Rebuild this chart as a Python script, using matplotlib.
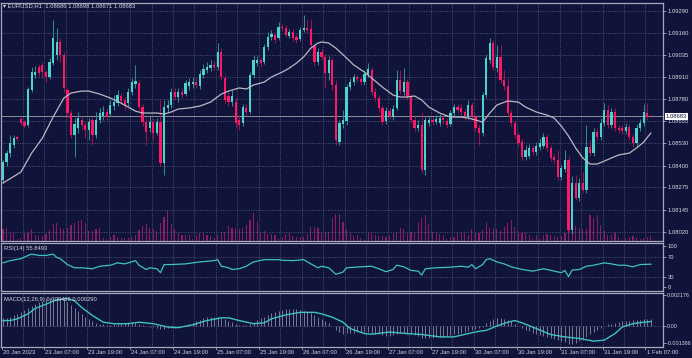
import numpy as np
import matplotlib
matplotlib.use('Agg')
import matplotlib.pyplot as plt

# EURUSD H1, 20 Jan 2023 20:00 -> 1 Feb 2023 09:00 (182 hourly bars)
opens = [
    1.08317, 1.08421, 1.08472, 1.08518, 1.08564, 1.08668, 1.08650, 1.08633, 1.08834, 1.08920,
    1.08966, 1.08978, 1.08937, 1.08909, 1.08989, 1.09035, 1.09110, 1.09035, 1.08834, 1.08702,
    1.08576, 1.08616, 1.08662, 1.08633, 1.08604, 1.08662, 1.08576, 1.08662, 1.08685, 1.08708,
    1.08696, 1.08742, 1.08759, 1.08800, 1.08777, 1.08759, 1.08823, 1.08868, 1.08874, 1.08736,
    1.08650, 1.08616, 1.08650, 1.08587, 1.08650, 1.08415, 1.08731, 1.08748, 1.08823, 1.08794,
    1.08823, 1.08811, 1.08857, 1.08868, 1.08880, 1.08857, 1.08920, 1.08949, 1.08960, 1.08978,
    1.08966, 1.09052, 1.08903, 1.08800, 1.08765, 1.08765, 1.08662, 1.08645, 1.08731, 1.08708,
    1.08920, 1.08989, 1.09006, 1.08995, 1.09081, 1.09138, 1.09150, 1.09133, 1.09196, 1.09190,
    1.09144, 1.09167, 1.09138, 1.09127, 1.09179, 1.09190, 1.09184, 1.09087, 1.08995, 1.09052,
    1.09024, 1.08932, 1.09006, 1.08863, 1.08535, 1.08639, 1.08656, 1.08851, 1.08880, 1.08909,
    1.08897, 1.08880, 1.08926, 1.08949, 1.08823, 1.08788, 1.08731, 1.08656, 1.08713, 1.08679,
    1.08731, 1.08891, 1.08823, 1.08880, 1.08794, 1.08662, 1.08616, 1.08633, 1.08375, 1.08645,
    1.08662, 1.08650, 1.08645, 1.08673, 1.08656, 1.08639, 1.08702, 1.08736, 1.08731, 1.08708,
    1.08679, 1.08748, 1.08679, 1.08616, 1.08587, 1.08805, 1.09006, 1.09104, 1.08960, 1.09024,
    1.08891, 1.08857, 1.08702, 1.08645, 1.08576, 1.08535, 1.08449, 1.08455, 1.08501, 1.08478,
    1.08507, 1.08513, 1.08564, 1.08501, 1.08449, 1.08432, 1.08334, 1.08380, 1.08432, 1.08030,
    1.08300, 1.08214, 1.08300, 1.08260, 1.08507, 1.08472, 1.08593, 1.08564, 1.08645, 1.08719,
    1.08633, 1.08708, 1.08616, 1.08616, 1.08599, 1.08622, 1.08564, 1.08530, 1.08616, 1.08645,
    1.08702, 1.08686]
closes = [
    1.08421, 1.08472, 1.08530, 1.08558, 1.08553, 1.08645, 1.08627, 1.08840, 1.08937, 1.08937,
    1.08932, 1.08937, 1.08909, 1.08995, 1.09133, 1.09110, 1.09035, 1.08846, 1.08702, 1.08576,
    1.08639, 1.08673, 1.08633, 1.08604, 1.08650, 1.08576, 1.08662, 1.08702, 1.08708, 1.08679,
    1.08748, 1.08765, 1.08805, 1.08771, 1.08742, 1.08823, 1.08880, 1.08886, 1.08736, 1.08650,
    1.08593, 1.08650, 1.08587, 1.08650, 1.08415, 1.08736, 1.08748, 1.08823, 1.08794, 1.08823,
    1.08805, 1.08874, 1.08880, 1.08880, 1.08863, 1.08926, 1.08955, 1.08966, 1.08978, 1.08966,
    1.09052, 1.08909, 1.08777, 1.08765, 1.08800, 1.08645, 1.08633, 1.08736, 1.08708, 1.08920,
    1.09006, 1.09006, 1.08989, 1.09081, 1.09138, 1.09156, 1.09121, 1.09196, 1.09190, 1.09150,
    1.09167, 1.09133, 1.09121, 1.09179, 1.09190, 1.09179, 1.09093, 1.08995, 1.09052, 1.09024,
    1.08932, 1.09006, 1.08863, 1.08547, 1.08645, 1.08662, 1.08851, 1.08880, 1.08909, 1.08897,
    1.08880, 1.08926, 1.08955, 1.08823, 1.08788, 1.08731, 1.08650, 1.08713, 1.08685, 1.08725,
    1.08891, 1.08828, 1.08880, 1.08794, 1.08662, 1.08616, 1.08633, 1.08375, 1.08662, 1.08662,
    1.08650, 1.08668, 1.08673, 1.08662, 1.08633, 1.08702, 1.08736, 1.08719, 1.08708, 1.08685,
    1.08748, 1.08679, 1.08616, 1.08587, 1.08805, 1.09018, 1.09104, 1.08966, 1.09024, 1.08891,
    1.08857, 1.08702, 1.08645, 1.08576, 1.08530, 1.08449, 1.08490, 1.08501, 1.08478, 1.08513,
    1.08530, 1.08564, 1.08501, 1.08444, 1.08432, 1.08334, 1.08386, 1.08432, 1.08030, 1.08300,
    1.08214, 1.08300, 1.08260, 1.08507, 1.08472, 1.08593, 1.08564, 1.08645, 1.08719, 1.08633,
    1.08708, 1.08616, 1.08604, 1.08599, 1.08622, 1.08564, 1.08530, 1.08616, 1.08645, 1.08708,
    1.08679, 1.08683]
highs = [
    1.08432, 1.08490, 1.08576, 1.08576, 1.08576, 1.08679, 1.08662, 1.08851, 1.08966, 1.08972,
    1.08983, 1.08995, 1.08949, 1.09018, 1.09236, 1.09190, 1.09133, 1.09052, 1.08846, 1.08719,
    1.08673, 1.08708, 1.08685, 1.08650, 1.08673, 1.08679, 1.08708, 1.08731, 1.08742, 1.08731,
    1.08777, 1.08805, 1.08834, 1.08817, 1.08794, 1.08846, 1.08903, 1.08978, 1.08891, 1.08754,
    1.08673, 1.08690, 1.08673, 1.08673, 1.08777, 1.08777, 1.08777, 1.08846, 1.08846, 1.08846,
    1.08846, 1.08891, 1.08903, 1.08909, 1.08903, 1.08949, 1.08983, 1.08995, 1.09006, 1.09001,
    1.09104, 1.09075, 1.08920, 1.08823, 1.08834, 1.08788, 1.08690, 1.08754, 1.08754, 1.08937,
    1.09035, 1.09029, 1.09024, 1.09098, 1.09167, 1.09179, 1.09167, 1.09225, 1.09213, 1.09207,
    1.09184, 1.09184, 1.09156, 1.09196, 1.09265, 1.09242, 1.09242, 1.09098, 1.09075, 1.09070,
    1.09041, 1.09029, 1.09024, 1.08891, 1.08662, 1.08719, 1.08868, 1.08903, 1.08926, 1.08920,
    1.08914, 1.08949, 1.08989, 1.08966, 1.08846, 1.08805, 1.08748, 1.08736, 1.08731, 1.08748,
    1.08949, 1.08949, 1.08960, 1.08897, 1.08811, 1.08685, 1.08662, 1.08708, 1.08679, 1.08685,
    1.08679, 1.08690, 1.08696, 1.08690, 1.08673, 1.08719, 1.08754, 1.08754, 1.08754, 1.08725,
    1.08777, 1.08765, 1.08696, 1.08633, 1.08823, 1.09035, 1.09133, 1.09121, 1.09093, 1.09093,
    1.08949, 1.08903, 1.08719, 1.08662, 1.08593, 1.08553, 1.08518, 1.08524, 1.08518, 1.08535,
    1.08558, 1.08587, 1.08581, 1.08518, 1.08467, 1.08490, 1.08403, 1.08490, 1.08455, 1.08340,
    1.08346, 1.08329, 1.08363, 1.08633, 1.08547, 1.08616, 1.08616, 1.08673, 1.08759, 1.08748,
    1.08731, 1.08731, 1.08633, 1.08633, 1.08645, 1.08639, 1.08581, 1.08639, 1.08668, 1.08754,
    1.08759, 1.08698]
lows = [
    1.08300, 1.08398, 1.08449, 1.08501, 1.08541, 1.08633, 1.08616, 1.08622, 1.08823, 1.08903,
    1.08914, 1.08903, 1.08880, 1.08897, 1.08978, 1.09006, 1.08995, 1.08823, 1.08673, 1.08558,
    1.08449, 1.08587, 1.08604, 1.08558, 1.08547, 1.08518, 1.08558, 1.08645, 1.08662, 1.08662,
    1.08685, 1.08719, 1.08742, 1.08754, 1.08719, 1.08742, 1.08805, 1.08846, 1.08719, 1.08627,
    1.08518, 1.08593, 1.08547, 1.08576, 1.08398, 1.08346, 1.08708, 1.08731, 1.08777, 1.08765,
    1.08788, 1.08800, 1.08834, 1.08846, 1.08846, 1.08840, 1.08903, 1.08932, 1.08943, 1.08949,
    1.08949, 1.08891, 1.08759, 1.08742, 1.08742, 1.08622, 1.08604, 1.08627, 1.08690, 1.08696,
    1.08903, 1.08972, 1.08966, 1.08983, 1.09064, 1.09121, 1.09104, 1.09121, 1.09173, 1.09138,
    1.09133, 1.09116, 1.09104, 1.09116, 1.09167, 1.09161, 1.09075, 1.08972, 1.08978, 1.09006,
    1.08846, 1.08891, 1.08834, 1.08518, 1.08518, 1.08616, 1.08633, 1.08834, 1.08863, 1.08880,
    1.08863, 1.08863, 1.08909, 1.08805, 1.08771, 1.08708, 1.08633, 1.08639, 1.08668, 1.08662,
    1.08719, 1.08811, 1.08805, 1.08777, 1.08645, 1.08599, 1.08599, 1.08357, 1.08346, 1.08627,
    1.08633, 1.08639, 1.08627, 1.08639, 1.08616, 1.08627, 1.08685, 1.08702, 1.08690, 1.08662,
    1.08668, 1.08662, 1.08599, 1.08518, 1.08570, 1.08788, 1.08989, 1.08949, 1.08937, 1.08874,
    1.08834, 1.08685, 1.08627, 1.08558, 1.08513, 1.08432, 1.08432, 1.08444, 1.08461, 1.08461,
    1.08490, 1.08501, 1.08484, 1.08426, 1.08415, 1.08317, 1.08317, 1.08363, 1.08013, 1.08007,
    1.08202, 1.08196, 1.08242, 1.08242, 1.08455, 1.08455, 1.08547, 1.08547, 1.08627, 1.08616,
    1.08616, 1.08599, 1.08587, 1.08581, 1.08581, 1.08547, 1.08507, 1.08513, 1.08599, 1.08627,
    1.08662, 1.08671]
# tick volume (hundreds)
volumes = [
    12, 13, 8, 8, 2, 3, 8, 8, 12, 6, 5, 5, 7, 11, 17, 18, 13, 12, 13, 16,
    18, 20, 21, 18, 10, 10, 12, 13, 3, 2, 4, 6, 4, 3, 3, 3, 4, 6, 11, 15,
    17, 13, 12, 10, 18, 24, 30, 17, 12, 8, 6, 6, 6, 2, 6, 8, 8, 6, 5, 3,
    6, 8, 9, 15, 13, 13, 12, 13, 16, 21, 28, 19, 8, 10, 7, 7, 6, 2, 4, 7,
    8, 5, 4, 4, 4, 7, 14, 14, 13, 9, 9, 9,
    23, 27, 27, 19, 12, 8, 5, 6, 3, 1, 8, 8, 6, 5, 5, 4, 5, 8, 9, 13,
    12, 8, 9, 8, 18, 23, 26, 17, 9, 8, 7, 6, 2, 4, 4, 8, 9, 8, 6, 12,
    8, 8, 11, 19, 13, 13, 12, 10, 14, 18, 21, 14, 8, 8, 8, 6, 3, 6, 2, 6,
    7, 6, 5, 4, 5, 8, 12, 13, 15, 13, 12, 12, 26, 23, 26, 16, 10, 6, 6, 8,
    4, 1, 3, 4, 5, 3, 2, 3, 4, 5]

# moving average (grey line), read at bar positions
ma_idx = [0, 5, 8, 11, 14, 17, 19, 22, 24, 27, 30, 33, 35, 37, 39, 43, 45, 47, 49, 52,
          55, 58, 61, 63, 66, 68, 70, 73, 75, 78, 80, 82, 84, 86, 88, 89, 91, 93, 96, 98,
          101, 103, 106, 109, 111, 113, 115, 117, 119, 122, 125, 128, 130, 132, 134, 136, 138, 141, 144, 146,
          149, 152, 154, 156, 158, 160, 162, 164, 166, 168, 170, 172, 175, 177, 179, 181]
ma_val = [1.08300, 1.08363, 1.08472, 1.08558, 1.08679, 1.08788, 1.08817, 1.08828, 1.08828, 1.08811,
          1.08788, 1.08759, 1.08736, 1.08713, 1.08702, 1.08702, 1.08696, 1.08708, 1.08725, 1.08731,
          1.08742, 1.08765, 1.08811, 1.08828, 1.08846, 1.08840, 1.08863, 1.08880, 1.08909, 1.08937,
          1.08960, 1.08989, 1.09024, 1.09075, 1.09104, 1.09110, 1.09104, 1.09075, 1.09018, 1.08978,
          1.08937, 1.08903, 1.08851, 1.08805, 1.08794, 1.08794, 1.08800, 1.08777, 1.08736, 1.08702,
          1.08679, 1.08679, 1.08673, 1.08662, 1.08650, 1.08702, 1.08748, 1.08771, 1.08765, 1.08736,
          1.08708, 1.08690, 1.08673, 1.08627, 1.08570, 1.08501, 1.08444, 1.08409, 1.08409, 1.08426,
          1.08444, 1.08461, 1.08472, 1.08501, 1.08535, 1.08587]

# RSI(14)
rsi_idx = [0, 2, 5, 7, 8, 10, 12, 14, 15, 16, 18, 20, 22, 25, 27, 30, 32, 34, 35, 37,
           38, 40, 41, 43, 44, 45, 47, 51, 55, 59, 60, 61, 63, 64, 66, 68, 69, 70, 73, 77,
           78, 81, 84, 86, 88, 89, 91, 93, 95, 96, 100, 103, 105, 107, 109, 110, 112, 114, 116, 117,
           118, 121, 125, 128, 130, 131, 132, 134, 135, 136, 138, 140, 142, 145, 148, 151, 154, 156, 157, 158,
           159, 161, 163, 165, 168, 170, 172, 174, 176, 178, 181]
rsi_val = [58.6, 63.3, 67.3, 74.1, 76.9, 74.1, 74.1, 76.9, 70.0, 67.3,
           55.1, 48.4, 48.4, 46.3, 51.6, 53.7, 58.6, 56.5, 58.6, 63.3,
           53.7, 44.9, 48.4, 46.3, 38.2, 55.1, 55.1, 56.5, 60.6, 63.3,
           65.3, 51.6, 48.4, 44.9, 46.3, 51.6, 56.5, 60.6, 65.3, 65.3,
           63.9, 63.3, 65.3, 56.5, 48.4, 51.6, 48.4, 34.7, 39.4, 48.4,
           50.4, 51.6, 46.3, 40.2, 44.9, 53.7, 50.4, 42.9, 41.4, 33.3,
           46.3, 48.4, 49.6, 51.6, 49.6, 55.1, 46.3, 55.1, 65.3, 67.3,
           60.6, 56.5, 50.4, 44.9, 41.4, 46.3, 41.4, 38.2, 42.9, 30.0,
           43.5, 44.9, 51.6, 53.7, 58.6, 56.5, 53.7, 53.7, 50.4, 55.1,
           55.8493]

# MACD(12,26,9): main (histogram) per bar, signal line read at bar positions
macd_hist = [
    0.00050, 0.00055, 0.00062, 0.00070, 0.00080, 0.00090, 0.00105, 0.00118, 0.00130, 0.00145,
    0.00158, 0.00168, 0.00176, 0.00182, 0.00186, 0.00188, 0.00186, 0.00175, 0.00158, 0.00138,
    0.00118, 0.00098, 0.00078, 0.00060, 0.00045, 0.00032, 0.00022, 0.00015, 0.00010, 0.00008,
    0.00008, 0.00010, 0.00014, 0.00018, 0.00022, 0.00024, 0.00026, 0.00022, 0.00015, 0.00008,
    0.00002, -0.00004, -0.00008, -0.00012, -0.00022, -0.00018, -0.00016, -0.00014, -0.00010, -0.00006,
    -0.00002, 0.00004, 0.00012, 0.00022, 0.00032, 0.00042, 0.00050, 0.00056, 0.00060, 0.00062,
    0.00062, 0.00054, 0.00044, 0.00034, 0.00024, 0.00014, 0.00008, 0.00004, 0.00004, 0.00014,
    0.00026, 0.00038, 0.00050, 0.00062, 0.00074, 0.00084, 0.00092, 0.00100, 0.00106, 0.00110,
    0.00112, 0.00112, 0.00110, 0.00106, 0.00100, 0.00094, 0.00084, 0.00072, 0.00060, 0.00046,
    0.00032, 0.00018, 0.00002, -0.00026, -0.00040, -0.00050, -0.00048, -0.00046, -0.00044, -0.00042,
    -0.00040, -0.00040, -0.00038, -0.00044, -0.00050, -0.00054, -0.00060, -0.00064, -0.00066, -0.00062,
    -0.00052, -0.00048, -0.00046, -0.00050, -0.00056, -0.00062, -0.00066, -0.00082, -0.00080, -0.00078,
    -0.00076, -0.00074, -0.00072, -0.00070, -0.00066, -0.00060, -0.00056, -0.00050, -0.00044, -0.00040,
    -0.00034, -0.00026, -0.00020, -0.00016, -0.00004, 0.00018, 0.00036, 0.00048, 0.00054, 0.00052,
    0.00048, 0.00040, 0.00030, 0.00016, 0.00002, -0.00012, -0.00026, -0.00036, -0.00044, -0.00052,
    -0.00062, -0.00068, -0.00074, -0.00080, -0.00086, -0.00094, -0.00100, -0.00104, -0.00120, -0.00116,
    -0.00110, -0.00102, -0.00092, -0.00070, -0.00054, -0.00038, -0.00026, -0.00014, -0.00002, 0.00010,
    0.00016, 0.00022, 0.00028, 0.00032, 0.00034, 0.00036, 0.00040, 0.00040, 0.00042, 0.00044,
    0.00046, 0.000466]
sig_idx = [0, 2, 4, 7, 9, 12, 15, 18, 20, 22, 25, 28, 31, 35, 38, 42, 46, 49, 53, 57,
           61, 63, 66, 70, 73, 75, 79, 83, 87, 89, 92, 95, 97, 101, 103, 108, 113, 117, 122, 126,
           130, 133, 135, 138, 141, 143, 145, 149, 153, 157, 161, 165, 168, 171, 173, 176, 179, 181]
sig_val = [0.00036, 0.00036, 0.00047, 0.00080, 0.00116, 0.00144, 0.00172, 0.00181, 0.00166, 0.00122,
           0.00069, 0.00025, 0.00015, 0.00015, 0.00025, 0.00015, -0.00007, -0.00011, 0.00008, 0.00036,
           0.00054, 0.00054, 0.00036, 0.00015, 0.00021, 0.00047, 0.00073, 0.00090, 0.00090, 0.00080,
           0.00058, 0.00025, -0.00017, -0.00050, -0.00054, -0.00040, -0.00050, -0.00056, -0.00072, -0.00072,
           -0.00050, -0.00035, -0.00029, 0.00000, 0.00025, 0.00036, 0.00021, -0.00017, -0.00056, -0.00072,
           -0.00082, -0.00100, -0.00093, -0.00050, -0.00007, 0.00015, 0.00025, 0.00029]

price_ticks = [1.09290, 1.09160, 1.09035, 1.08910, 1.08780, 1.08655, 1.08530, 1.08400, 1.08275, 1.08145, 1.08020]
date_labels = ['20 Jan 2023', '23 Jan 07:00', '23 Jan 19:00', '24 Jan 07:00', '24 Jan 19:00',
               '25 Jan 07:00', '25 Jan 19:00', '26 Jan 07:00', '26 Jan 19:00', '27 Jan 07:00',
               '27 Jan 19:00', '30 Jan 07:00', '30 Jan 19:00', '31 Jan 07:00', '31 Jan 19:00', '1 Feb 07:00']
date_pos = [-0.3] + [11.5 + 12 * k for k in range(15)]

o = np.array(opens); c = np.array(closes); h = np.array(highs); l = np.array(lows)
n = len(c)
x = np.arange(n)

bg = '#10133a'
bull = '#4cd4cc'
bear = '#ff1766'
gridc = '#565a7c'
txt = '#d6d7e2'
spine = '#a7a9bd'
fs = 4.2

plt.rcParams['font.family'] = ['Liberation Sans', 'DejaVu Sans']

fig = plt.figure(figsize=(6.92, 3.58), dpi=100)
fig.patch.set_facecolor(bg)

W, H = 692.0, 358.0
def box(x0, y0, x1, y1):
    return [x0 / W, 1 - y1 / H, (x1 - x0) / W, (y1 - y0) / H]

ax = fig.add_axes(box(1, 3, 663, 241))
ax_rsi = fig.add_axes(box(1, 243, 663, 291))
ax_macd = fig.add_axes(box(1, 293, 663, 347))

# volume bars behind candles
axv = ax.twinx()
axv.bar(x, volumes, width=0.32, color='#8a1c64', lw=0, zorder=1)
axv.set_ylim(0, max(volumes) * 7.9)
axv.axis('off')
ax.set_zorder(axv.get_zorder() + 1)
ax.patch.set_visible(False)

xl = (-0.56, 184.4)
vgrid = np.arange(5.5, 184, 6)
for a in (ax, ax_rsi, ax_macd):
    a.set_xlim(*xl)
    for s in a.spines.values():
        s.set_color(spine)
        s.set_linewidth(0.9)
    for gx in vgrid:
        a.axvline(gx, color=gridc, lw=0.6, ls=(0, (1.2, 1.6)), zorder=0)
    a.set_xticks([])
    a.yaxis.tick_right()
    a.tick_params(axis='y', left=False, labelleft=False, right=True, labelright=True,
                  length=2, width=0.6, color=spine, labelsize=fs, labelcolor=txt, pad=1.2)
ax_rsi.set_facecolor(bg)
ax_macd.set_facecolor(bg)

# main price panel
ax.set_ylim(1.07967, 1.09334)
ax.set_yticks(price_ticks)
ax.set_yticklabels(['%.5f' % p for p in price_ticks])
for p in price_ticks:
    ax.axhline(p, color=gridc, lw=0.6, ls=(0, (1.2, 1.6)), zorder=0)

up = c >= o
ax.vlines(x, l, h, colors=np.where(up, '#2f8f96', '#a01552'), lw=0.7, zorder=2)
ax.bar(x, np.maximum(np.abs(c - o), 0.00003), bottom=np.minimum(o, c), width=0.62,
       color=np.where(up, bull, bear), lw=0, zorder=3)
ax.plot(ma_idx, ma_val, color='#b9bac4', lw=0.9, zorder=4)
ax.axhline(c[-1], color='#8d8e9c', lw=0.7, zorder=1)
ax.text(1.004, c[-1], '%.5f' % c[-1], transform=ax.get_yaxis_transform(), fontsize=fs,
        color='#10133a', va='center', ha='left', clip_on=False, zorder=10,
        bbox=dict(boxstyle='square,pad=0.18', fc='white', ec='none'))

fig.text(3 / W, 1 - 6 / H,
         '\u25be EURUSD,H1  %.5f %.5f %.5f %.5f' % (o[-1], h[-1], l[-1], c[-1]),
         fontsize=fs, color=txt, va='center', ha='left')

# RSI panel
ax_rsi.set_ylim(0, 100)
for lv in (70, 30):
    ax_rsi.axhline(lv, color=gridc, lw=0.6, ls=(0, (1.2, 1.6)), zorder=0)
ax_rsi.plot(rsi_idx, rsi_val, color='#3fc2c0', lw=0.9)
ax_rsi.set_yticks([93, 70, 30, 8])
ax_rsi.set_yticklabels(['100', '70', '30', '0'])
ax_rsi.text(0.004, 0.93, 'RSI(14) %.4f' % rsi_val[-1], transform=ax_rsi.transAxes,
            fontsize=fs, color=txt, va='top', ha='left')

# MACD panel
ax_macd.set_ylim(-0.001386, 0.002176)
ax_macd.axhline(0, color=gridc, lw=0.6, ls=(0, (1.2, 1.6)), zorder=0)
ax_macd.vlines(x, 0, macd_hist, colors='#8a8ca3', lw=0.6, zorder=1)
ax_macd.plot(sig_idx, sig_val, color='#3fc2c0', lw=1.0, zorder=2)
ax_macd.set_yticks([0.00205, 0.0, -0.00112])
ax_macd.set_yticklabels(['0.002176', '0.00', '-0.001386'])
ax_macd.tick_params(axis='y', labelsize=3.9, pad=0.8)
ax_macd.text(0.004, 0.93, 'MACD(12,26,9) %.6f %.6f' % (macd_hist[-1], sig_val[-1]),
             transform=ax_macd.transAxes, fontsize=fs, color=txt, va='top', ha='left')

# time axis labels
for xp, lab in zip(date_pos, date_labels):
    ax_macd.text(xp + 0.3, -0.1, lab, transform=ax_macd.get_xaxis_transform(),
                 fontsize=fs, color=txt, va='center', ha='left', clip_on=False)
    ax_macd.plot([xp, xp], [-0.04, 0.0], transform=ax_macd.get_xaxis_transform(),
                 color=spine, lw=0.6, clip_on=False)

fig.savefig('out.png', dpi=100, facecolor=bg)
